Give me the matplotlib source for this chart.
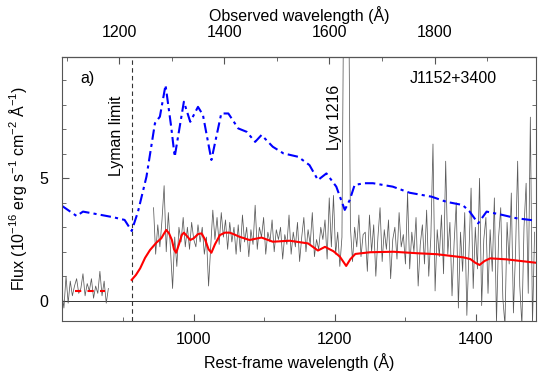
import numpy as np
import matplotlib
matplotlib.use('Agg')
import matplotlib.pyplot as plt

plt.rcParams['font.family'] = ['Liberation Sans', 'DejaVu Sans']
plt.rcParams['mathtext.default'] = 'regular'
plt.rcParams['font.size'] = 11.5

z = 0.3419  # redshift, top axis = observed wavelength

# blue dash-dot template
blue_wave = [813, 834, 843, 862, 886, 902, 912, 921, 933, 945, 952, 960, 968, 973, 986, 995,
             1006, 1013, 1025, 1039, 1049, 1063, 1075, 1087, 1096, 1112, 1127, 1148, 1164, 1176,
             1188, 1202, 1214, 1221, 1228, 1242, 1254, 1282, 1306, 1337, 1358, 1381, 1391, 1403,
             1415, 1438, 1457, 1485]
blue_flux = [3.88, 3.46, 3.64, 3.54, 3.41, 3.30, 2.85, 3.64, 5.07, 7.25, 7.52, 8.81, 7.11, 5.88,
             8.13, 7.31, 7.92, 7.59, 5.75, 7.65, 7.65, 7.04, 6.90, 6.49, 6.77, 6.29, 6.02, 5.88,
             5.54, 4.93, 5.20, 4.66, 3.71, 4.11, 4.73, 4.80, 4.80, 4.66, 4.41, 4.25, 4.04, 3.91,
             3.64, 3.16, 3.64, 3.50, 3.37, 3.27]

# red model fit
red_wave = [912, 918, 924, 931, 938, 947, 954, 958, 961, 965, 969, 972, 975, 979, 983, 986,
            990, 995, 1000, 1006, 1011, 1016, 1021, 1025, 1030, 1037, 1044, 1051, 1058, 1065,
            1079, 1096, 1112, 1136, 1162, 1176, 1186, 1198, 1207, 1216, 1222, 1229, 1250, 1283,
            1316, 1344, 1382, 1392, 1399, 1405, 1412, 1420, 1443, 1485]
red_flux = [0.85, 1.05, 1.32, 1.75, 2.07, 2.37, 2.55, 2.75, 2.89, 2.75, 2.48, 2.10, 1.96, 2.30,
            2.68, 2.78, 2.65, 2.48, 2.55, 2.72, 2.75, 2.50, 2.10, 1.96, 2.30, 2.68, 2.78, 2.78,
            2.70, 2.61, 2.48, 2.58, 2.41, 2.45, 2.34, 2.05, 2.20, 2.02, 1.80, 1.42, 1.70, 1.91,
            1.98, 2.00, 1.94, 1.90, 1.77, 1.70, 1.55, 1.46, 1.62, 1.73, 1.69, 1.55]

# ionizing part (below Lyman limit)
lyc_wave = np.arange(813, 880, 3)
lyc_flux = [0.3, -0.3, 1.0, -0.1, 0.8, 0.2, 0.6, 0.9, 0.3, 0.5, 1.1, 0.2, 0.7, 0.4, 0.9, 0.1,
            0.6, 0.3, 1.2, 0.2, 0.8, -0.1, 0.5]
lyc_mean_wave = [832, 874]
lyc_mean_flux = [0.4, 0.4]

# observed spectrum
spec_wave = np.arange(943, 1486, 3)
spec_flux = [
    3.8, 1.9, 3.1, 2.2, 3.3, 4.7, 2.0, 3.6, 2.1, 0.5, 2.6, 1.4, 3.0, 2.4, 3.4, 2.2, 3.0, 2.1, 3.2, 2.5,
    2.2, 3.1, 2.4, 3.0, 1.9, 2.6, 0.6, 2.2, 3.7, 2.5, 3.4, 2.3, 3.6, 2.6, 3.3, 2.1, 3.2, 2.4, 3.0, 1.9,
    3.1, 2.0, 3.5, 2.4, 3.0, 1.8, 2.9, 2.3, 3.9, 2.1, 3.0, 2.6, 3.4, 1.9, 2.8, 2.4, 3.3, 2.0, 2.9, 2.5,
    3.0, 1.7, 2.7, 2.3, 3.5, 1.9, 2.8, 2.2, 3.2, 1.6, 2.6, 3.4, 2.0, 2.9, 2.3, 3.6, 1.8, 2.5, 2.1, 3.0,
    2.5, 3.3, 1.7, 4.2, 2.2, 4.3, 1.9, 2.8, 1.4, 2.6, 15.0, 15.0, 15.0, 3.0, 1.6, 3.0, 2.2, 3.5, 1.8, 2.7,
    2.8, 1.2, 3.5, 2.0, 3.1, 1.0, 2.6, 3.8, 1.6, 2.9, 2.1, 3.3, 0.9, 2.5, 3.0, 1.7, 3.6, 2.2, 2.7, 1.5,
    4.4, 1.3, 2.8, 2.0, 3.4, 0.6, 2.3, 3.1, 1.5, 3.7, 1.0, 2.6, 6.4, 0.4, 2.9, 1.8, 3.5, 1.1, 5.7, 1.9,
    3.2, 0.2, 2.4, 4.0, -0.3, 2.8, 1.2, 3.6, -0.6, 2.0, 4.6, 0.5, 3.0, 1.3, 5.0, -0.2, 2.5, 3.4, 0.3, 2.9,
    1.2, 4.2, -0.9, 2.6, 3.8, 0.1, -1.0, 3.2, 1.5, 4.4, -0.5, 2.0, 5.7, 0.6, -1.0, 3.0, 4.8, 0.3, 7.5, -1.0, 2.8,
]

fig = plt.figure(figsize=(5.38, 3.84), dpi=100)
ax = fig.add_axes([61.8 / 538, 63 / 384, 474.2 / 538, 264.3 / 384])

ax.axhline(0, color='#333333', lw=0.7)
ax.axvline(912, color='#333333', lw=0.8, dashes=(4, 3))

ax.plot(lyc_wave, lyc_flux, color='#5a5a5a', lw=0.55)
ax.plot(spec_wave, spec_flux, color='#5a5a5a', lw=0.55)
ax.plot(lyc_mean_wave, lyc_mean_flux, color='red', lw=1.5, dashes=(3, 3))
ax.plot(red_wave, red_flux, color='red', lw=1.5)
ax.plot(blue_wave, blue_flux, color='#0000ff', lw=1.5, dashes=(5, 2, 1.5, 2))

ax.set_xlim(813, 1485)
ax.set_ylim(-0.83, 9.97)
ax.set_xticks([1000, 1200, 1400])
ax.set_xticks(np.arange(900, 1500, 100), minor=True)
ax.set_yticks([0, 5])
ax.set_yticks(np.arange(0, 10, 1), minor=True)
ax.tick_params(which='both', direction='in', top=False, right=True, color='#555555')
ax.tick_params(which='major', length=5)
ax.tick_params(which='minor', length=3)
ax.tick_params(axis='x', which='major', pad=8)
ax.tick_params(axis='y', which='major', pad=10)
for s in ax.spines.values():
    s.set_color('#555555')
    s.set_linewidth(0.8)

top = ax.secondary_xaxis('top', functions=(lambda x: x * (1 + z), lambda x: x / (1 + z)))
top.set_xticks([1200, 1400, 1600, 1800])
top.set_xticks(np.arange(1100, 2000, 100), minor=True)
top.tick_params(which='both', direction='in', color='#555555')
top.tick_params(which='major', length=5, pad=12)
top.tick_params(which='minor', length=3)
top.set_xlabel('Observed wavelength (Å)', labelpad=3)

ax.set_xlabel('Rest-frame wavelength (Å)', labelpad=4)
ax.set_ylabel('Flux (10$^{-16}$ erg s$^{-1}$ cm$^{-2}$ Å$^{-1}$)', labelpad=7)

ax.text(850, 9.06, 'a)', ha='center', va='center')
ax.text(1368, 9.06, 'J1152+3400', ha='center', va='center')
ax.text(890, 6.73, 'Lyman limit', rotation=90, ha='center', va='center')
ax.text(1200, 7.48, 'Lyα 1216', rotation=90, ha='center', va='center')

fig.savefig('out.png', dpi=100)
